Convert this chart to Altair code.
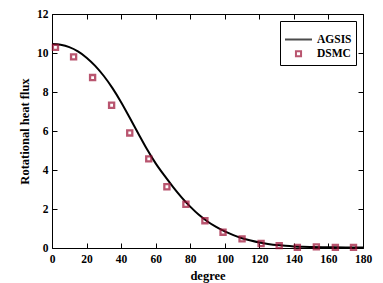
import altair as alt
import pandas as pd

# AGSIS curve
agsis_deg = [0, 5, 10, 15, 20, 25, 30, 35, 40, 45, 50, 55, 60, 65, 70, 75, 80,
             85, 90, 95, 100, 105, 110, 115, 120, 125, 130, 135, 140, 145, 150,
             160, 170, 180]
agsis_val = [10.46, 10.42, 10.30, 10.08, 9.76, 9.34, 8.82, 8.20, 7.48, 6.68,
             5.86, 5.06, 4.34, 3.72, 3.14, 2.60, 2.12, 1.70, 1.36, 1.08, 0.85,
             0.66, 0.50, 0.38, 0.28, 0.21, 0.15, 0.11, 0.08, 0.06, 0.05, 0.04,
             0.03, 0.03]

# DSMC points
dsmc_deg = [2, 12.5, 23.5, 34.5, 45, 56, 66.5, 77.5, 88.5, 99, 110, 121,
            131.5, 142, 153, 164, 174.5]
dsmc_val = [10.29, 9.8, 8.74, 7.32, 5.9, 4.57, 3.14, 2.24, 1.4, 0.81, 0.47,
            0.23, 0.12, 0.03, 0.06, 0.03, 0.03]

x_ticks = [0, 20, 40, 60, 80, 100, 120, 140, 160, 180]
y_ticks = [0, 2, 4, 6, 8, 10, 12]

series = ["AGSIS", "DSMC"]
red = "#9C0E33"
font = "Liberation Serif"

line_df = pd.DataFrame({"deg": agsis_deg, "val": agsis_val, "series": "AGSIS"})
pt_df = pd.DataFrame({"deg": dsmc_deg, "val": dsmc_val, "series": "DSMC"})

xscale = alt.Scale(domain=[0, 180], nice=False, zero=False)
yscale = alt.Scale(domain=[0, 12], nice=False)
color = alt.Color("series:N", scale=alt.Scale(domain=series, range=["black", red]),
                  legend=alt.Legend(title=None))

common_axis = dict(offset=-5, tickSize=5, domain=False, tickColor="black",
                   tickWidth=1, labelFont=font, labelFontWeight="bold",
                   labelFontSize=11.5, labelColor="black", grid=False,
                   titleFont=font, titleFontWeight="bold", titleFontSize=12.5,
                   titleColor="black")

line = alt.Chart(line_df).mark_line(strokeWidth=2, interpolate="monotone").encode(
    x=alt.X("deg:Q", scale=xscale,
            axis=alt.Axis(values=x_ticks, title="degree", labelPadding=5,
                          titlePadding=5, labelFlush=False, **common_axis)),
    y=alt.Y("val:Q", scale=yscale,
            axis=alt.Axis(values=y_ticks, title="Rotational heat flux",
                          labelPadding=4, titlePadding=5, labelFlush=False,
                          **common_axis)),
    color=color,
)

hidden = dict(common_axis)
hidden.update(labels=False, title=None)

points = alt.Chart(pt_df).mark_point(filled=False, strokeWidth=2.3).encode(
    x=alt.X("deg:Q", scale=xscale,
            axis=alt.Axis(values=x_ticks, orient="top", **hidden)),
    y=alt.Y("val:Q", scale=yscale,
            axis=alt.Axis(values=y_ticks, orient="right", **hidden)),
    color=color,
    shape=alt.Shape("series:N", scale=alt.Scale(domain=series, range=["stroke", "square"]),
                    legend=alt.Legend(title=None)),
    size=alt.Size("series:N", scale=alt.Scale(domain=series, range=[729, 26]),
                  legend=alt.Legend(title=None)),
)

chart = alt.layer(line, points).resolve_axis(
    x="independent", y="independent"
).properties(
    width=311, height=234,
    autosize=alt.AutoSizeParams(type="none"),
    padding={"left": 44, "top": 6, "right": 12, "bottom": 35},
).configure_view(
    stroke="black", strokeWidth=1
).configure_legend(
    orient="top-right", offset=7, padding=4, strokeColor="black",
    fillColor="white", labelFont=font, labelFontWeight="bold",
    labelFontSize=11.5, labelColor="black", rowPadding=2, labelOffset=4,
    symbolStrokeWidth=2,
)

chart.save("out.html", embed_options={"renderer": "svg", "actions": False})
